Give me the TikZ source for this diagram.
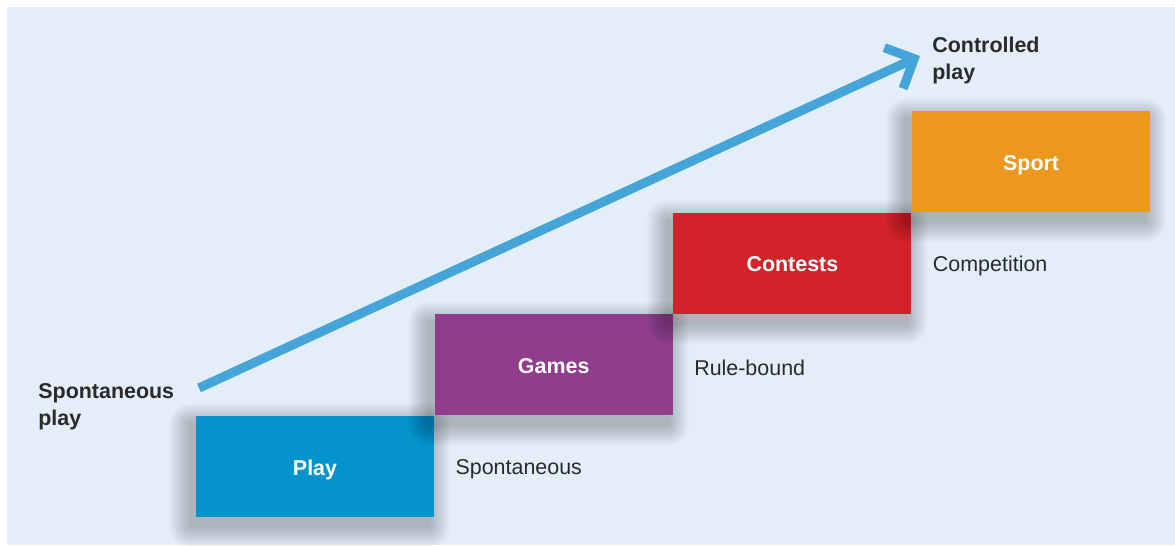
\documentclass[tikz,border=0pt]{standalone}
\usepackage{fontspec}
\setmainfont{Liberation Sans}
\usepackage{tikz}
\usetikzlibrary{arrows.meta,positioning}
\definecolor{bgblue}{HTML}{E3EEF8}
\definecolor{arrowblue}{HTML}{45A5D8}
\definecolor{playblue}{HTML}{0493CB}
\definecolor{gamespurple}{HTML}{8F3D8C}
\definecolor{contestred}{HTML}{D2232A}
\definecolor{sportorange}{HTML}{EC971F}
\definecolor{inkgray}{HTML}{2B2A2B}
\newcommand{\lbl}{\fontsize{12.2}{15.4}\selectfont}
\tikzset{
  slot/.style={minimum width=4.76cm,minimum height=2.02cm,inner sep=0pt},
  stair/.style={slot,text=white,font=\lbl\bfseries,text height=12.4pt,text depth=2.6pt},
  haze/.style={black,opacity=0.015},
  note/.style={text=inkgray,font=\lbl,yshift=-0.06cm},
  endnote/.style={text=inkgray,font=\lbl\bfseries,align=left,inner sep=0pt,anchor=west},
  rise/.style={draw=arrowblue,line width=5.2pt,-{Straight Barb[length=4.5mm,width=9mm]}}
}

\begin{document}
\begin{tikzpicture}
\useasboundingbox (0,0) rectangle (23.5,-10.9);
\fill[bgblue] (0.14,-0.14) rectangle (23.5,-10.9);
\node[slot] (play) at (6.3,-9.33) {};
\node[slot,above right=0cm and 0cm of play] (games) {};
\node[slot,above right=0cm and 0cm of games] (contests) {};
\node[slot,above right=0cm and 0cm of contests] (sport) {};
\foreach \s/\c/\t in {play/playblue/Play,games/gamespurple/Games,contests/contestred/Contests,sport/sportorange/Sport}{
  \foreach \r in {1,...,15}
    \fill[haze,rounded corners={\r*0.8pt}] ([shift={({(-3-0.8*\r)*1pt},{(-5-0.8*\r)*1pt})}]\s.south west) rectangle ([shift={({(-3+0.8*\r)*1pt},{(-5+0.8*\r)*1pt})}]\s.north east);
  \node[stair,fill=\c] (\s face) at (\s) {\t};
}
\node[note,right=0.3cm of play] (spont) {Spontaneous};
\node[note,right=0.3cm of games] (rule) {Rule-bound};
\node[note,right=0.3cm of contests] (comp) {Competition};
\node[endnote] (free) at (0.76,-8.14) {Spontaneous\\play};
\node[endnote] (ctrl) at (18.64,-1.21) {Controlled\\play};
\coordinate (lo) at (3.98,-7.76);
\coordinate (hi) at (18.4,-1.12);
\draw[rise] (lo) -- (hi);
\end{tikzpicture}
\end{document}
